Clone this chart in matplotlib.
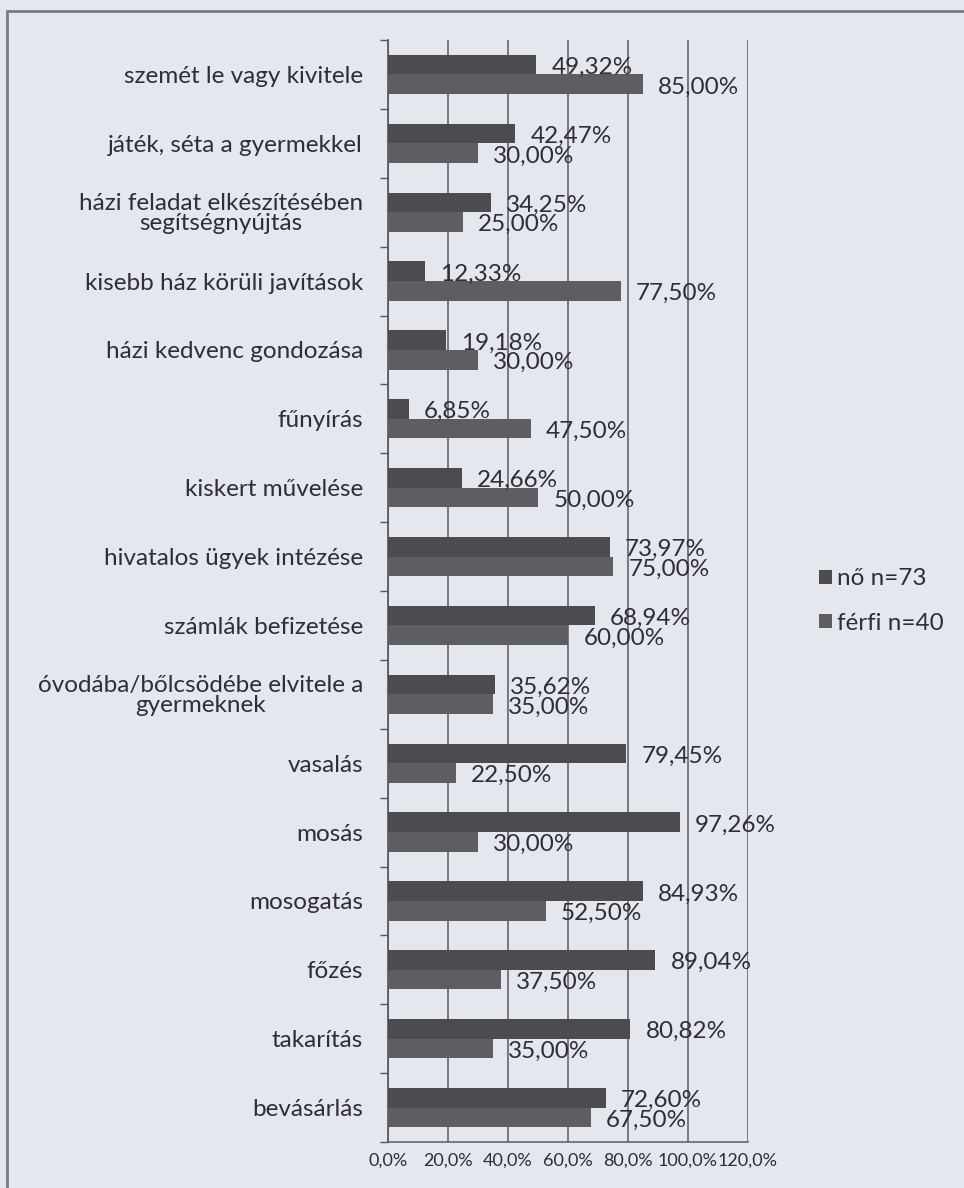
import matplotlib
matplotlib.use("Agg")
import matplotlib.pyplot as plt
from matplotlib.patches import Rectangle, Patch
import numpy as np

plt.rcParams['font.family'] = ['Lato', 'DejaVu Sans']

categories = [
    "szemét le vagy kivitele",
    "játék, séta a gyermekkel",
    "házi feladat elkészítésében\nsegítségnyújtás",
    "kisebb ház körüli javítások",
    "házi kedvenc gondozása",
    "fűnyírás",
    "kiskert művelése",
    "hivatalos ügyek intézése",
    "számlák befizetése",
    "óvodába/bőlcsödébe elvitele a\ngyermeknek",
    "vasalás",
    "mosás",
    "mosogatás",
    "főzés",
    "takarítás",
    "bevásárlás",
]
no_values = [49.32, 42.47, 34.25, 12.33, 19.18, 6.85, 24.66, 73.97, 68.94,
             35.62, 79.45, 97.26, 84.93, 89.04, 80.82, 72.60]
ferfi_values = [85.00, 30.00, 25.00, 77.50, 30.00, 47.50, 50.00, 75.00, 60.00,
                35.00, 22.50, 30.00, 52.50, 37.50, 35.00, 67.50]
series_names = ["nő n=73", "férfi n=40"]
xticks = [0, 20, 40, 60, 80, 100, 120]

bg = '#e5e7ee'
c_no = '#4c4c50'
c_ferfi = '#5e5e62'
txt = '#2e2e33'

fig = plt.figure(figsize=(9.64, 11.88), dpi=100, facecolor=bg)
# outer frame
fig.patches.append(Rectangle((7/964, -0.05), 1.2, 1 - 11/1188 + 0.05,
                             transform=fig.transFigure, fill=False,
                             edgecolor='#7a7a80', linewidth=2))

ax = fig.add_axes([388/964, 1 - 1142/1188, (748 - 388)/964, (1142 - 40)/1188])
ax.set_facecolor(bg)

n = len(categories)
y = np.arange(n)
h = 0.285
ax.barh(y - h/2, no_values, height=h, color=c_no, label=series_names[0], zorder=3)
ax.barh(y + h/2, ferfi_values, height=h, color=c_ferfi, label=series_names[1], zorder=3)

for i in range(n):
    ax.annotate(f"{no_values[i]:.2f}%".replace('.', ','), (no_values[i], y[i] - h/2),
                xytext=(11, -2), textcoords='offset points', va='center', ha='left',
                fontsize=17.5, color=txt, zorder=4)
    ax.annotate(f"{ferfi_values[i]:.2f}%".replace('.', ','), (ferfi_values[i], y[i] + h/2),
                xytext=(11, -2), textcoords='offset points', va='center', ha='left',
                fontsize=17.5, color=txt, zorder=4)

ax.set_ylim(n - 0.5, -0.5)
ax.set_xlim(0, 120)
ax.set_xticks(xticks)
ax.set_xticklabels([f"{v:.1f}%".replace('.', ',') for v in xticks], fontsize=13, color=txt)
ax.tick_params(axis='x', length=0, pad=8)

ax.set_yticks(y)
ax.set_yticklabels(categories, fontsize=17.5, color=txt, linespacing=0.95,
                   multialignment='center')
ax.tick_params(axis='y', length=0, pad=18)
ax.set_yticks(np.arange(n + 1) - 0.5, minor=True)
ax.tick_params(axis='y', which='minor', length=6, width=1, color='#555555')

ax.grid(axis='x', color='#5a5a5e', linewidth=1.1, zorder=0)
for s in ['top', 'right']:
    ax.spines[s].set_visible(False)
ax.spines['left'].set_color('#555555')
ax.spines['left'].set_linewidth(1.2)
ax.spines['bottom'].set_color('#5a5a5e')
ax.spines['bottom'].set_linewidth(1.1)

handles = [Patch(facecolor=c_no), Patch(facecolor=c_ferfi)]
leg = fig.legend(handles, series_names, loc='center left',
                 bbox_to_anchor=(797/964, 1 - 601/1188), frameon=False,
                 fontsize=17.5, handlelength=0.55, handleheight=0.55,
                 handletextpad=0.2, labelspacing=0.95, labelcolor=txt)

fig.savefig('out.png', dpi=100, facecolor=bg)
